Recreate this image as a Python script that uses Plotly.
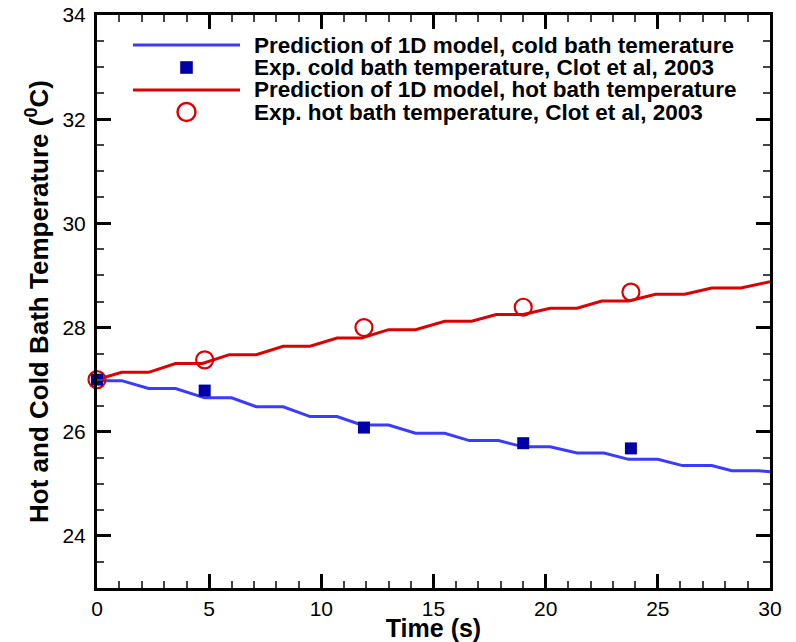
import plotly.graph_objects as go

# ---- data ----
cold_model_t = [0, 1.1, 2.3, 3.5, 4.8, 6.0, 7.1, 8.3, 9.5, 10.7, 11.8, 13.0, 14.2, 15.5,
                16.6, 17.9, 19.0, 20.2, 21.4, 22.6, 23.7, 25.0, 26.1, 27.4, 28.3, 29.5, 30]
cold_model_T = [26.98, 26.98, 26.83, 26.83, 26.65, 26.65, 26.48, 26.48, 26.29, 26.29, 26.13,
                26.13, 25.97, 25.97, 25.83, 25.83, 25.71, 25.71, 25.59, 25.59, 25.47, 25.47,
                25.35, 25.35, 25.25, 25.25, 25.23]
hot_model_t = [0, 1.1, 2.3, 3.5, 4.7, 5.9, 7.1, 8.3, 9.5, 10.7, 11.8, 13.0, 14.2, 15.5,
               16.7, 17.8, 19.0, 20.2, 21.4, 22.5, 23.7, 24.9, 26.2, 27.4, 28.7, 30]
hot_model_T = [27.0, 27.14, 27.14, 27.31, 27.31, 27.48, 27.48, 27.64, 27.64, 27.80, 27.80,
               27.96, 27.96, 28.12, 28.12, 28.25, 28.25, 28.37, 28.37, 28.51, 28.51, 28.64,
               28.64, 28.76, 28.76, 28.88]
exp_t = [0, 4.8, 11.9, 19.0, 23.8]
exp_cold_T = [27.0, 26.79, 26.08, 25.78, 25.68]
exp_hot_T = [27.0, 27.38, 28.0, 28.39, 28.68]

legend_labels = [
    "Prediction of 1D model, cold bath temerature",
    "Exp. cold bath temperature, Clot et al, 2003",
    "Prediction of 1D model, hot bath temperature",
    "Exp. hot bath temperature, Clot et al, 2003",
]

BLUE_LINE = "#3b3bff"
BLUE_MARK = "#0000a8"
RED = "#dd0000"
FONT = "Arial, Liberation Sans, sans-serif"

W, H = 796, 642
L, R, T, B = 97, 26, 15, 54

fig = go.Figure()
fig.add_trace(go.Scatter(x=cold_model_t, y=cold_model_T, mode="lines",
                         line=dict(color=BLUE_LINE, width=3), showlegend=False))
fig.add_trace(go.Scatter(x=hot_model_t, y=hot_model_T, mode="lines",
                         line=dict(color=RED, width=3), showlegend=False))
fig.add_trace(go.Scatter(x=exp_t, y=exp_hot_T, mode="markers", cliponaxis=False,
                         marker=dict(symbol="circle-open", size=17, color=RED,
                                     line=dict(color=RED, width=2.2)), showlegend=False))
fig.add_trace(go.Scatter(x=exp_t, y=exp_cold_T, mode="markers", cliponaxis=False,
                         marker=dict(symbol="square", size=12, color=BLUE_MARK,
                                     line=dict(width=0)), showlegend=False))

pw, ph = W - L - R, H - T - B


def px(x):
    return (x - L) / pw


def py(y):
    return (H - B - y) / ph


# manual legend
rows = [45, 67.5, 90, 112]
x0, x1, xc = 133, 240, 186.5
shapes = [
    dict(type="line", xref="paper", yref="paper", x0=px(x0), x1=px(x1), y0=py(rows[0]), y1=py(rows[0]),
         line=dict(color=BLUE_LINE, width=3)),
    dict(type="rect", xref="paper", yref="paper", x0=px(xc - 6.3), x1=px(xc + 6.3),
         y0=py(rows[1] - 6.3), y1=py(rows[1] + 6.3), fillcolor=BLUE_MARK, line=dict(width=0)),
    dict(type="line", xref="paper", yref="paper", x0=px(x0), x1=px(x1), y0=py(rows[2]), y1=py(rows[2]),
         line=dict(color=RED, width=3)),
    dict(type="circle", xref="paper", yref="paper", x0=px(xc - 9), x1=px(xc + 9),
         y0=py(rows[3] - 9), y1=py(rows[3] + 9), line=dict(color=RED, width=2.4)),
]
annotations = [
    dict(xref="paper", yref="paper", x=px(252), y=py(yy), xanchor="left", yanchor="middle",
         text="<b>%s</b>" % lab, showarrow=False, font=dict(family=FONT, size=22.5, color="black"))
    for lab, yy in zip(legend_labels, rows)
]

axis_common = dict(showline=True, linewidth=3, linecolor="black", mirror="allticks",
                   ticks="inside", ticklen=14, tickwidth=3, tickcolor="black",
                   showgrid=False, zeroline=False, automargin=False,
                   tickfont=dict(family=FONT, size=21, color="black"))

fig.update_layout(
    width=W, height=H,
    margin=dict(l=L, r=R, t=T, b=B),
    plot_bgcolor="white", paper_bgcolor="white",
    showlegend=False,
    shapes=shapes, annotations=annotations,
    xaxis=dict(range=[0, 30], tickmode="array", tickvals=[0, 5, 10, 15, 20, 25, 30],
               minor=dict(tickvals=[i for i in range(31) if i % 5], ticks="inside", ticklen=7,
                          tickwidth=1.5, tickcolor="#444"),
               title=dict(text="<b>Time (s)</b>", font=dict(family=FONT, size=25, color="black"),
                          standoff=0),
               **axis_common),
    yaxis=dict(range=[23, 34], tickmode="array", tickvals=[24, 26, 28, 30, 32, 34],
               ticklabelstandoff=4,
               minor=dict(tickvals=[23 + 0.5 * i for i in range(23) if (23 + 0.5 * i) % 2 != 0],
                          ticks="inside", ticklen=7, tickwidth=1.5, tickcolor="#444"),
               title=dict(text="<b>Hot and Cold Bath Temperature (<sup>0</sup>C)</b>",
                          font=dict(family=FONT, size=26, color="black"), standoff=7),
               **axis_common),
)

fig.write_html("out.html", config={"displayModeBar": False},
               post_script="document.body.style.margin='0';document.body.style.padding='0';")
